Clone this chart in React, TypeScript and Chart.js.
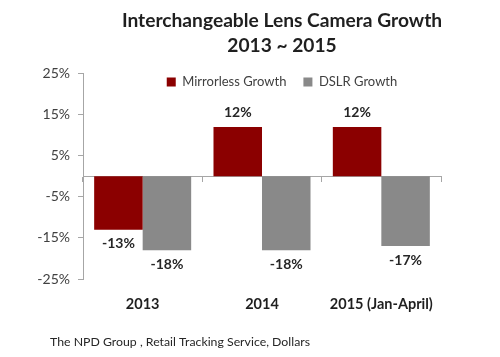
import React, { useEffect, useRef } from 'react';
import { Chart, registerables } from 'chart.js';

Chart.register(...registerables);

const TITLE_LINES = ['Interchangeable Lens Camera Growth', '2013 ~ 2015'];
const CATEGORIES = ['2013', '2014', '2015 (Jan-April)'];
const SERIES_NAMES = ['Mirrorless Growth', 'DSLR Growth'];
const MIRRORLESS = [-13, 12, 12];
const DSLR = [-18, -18, -17];
const Y_MIN = -25;
const Y_MAX = 25;
const Y_STEP = 10;
const FOOTER = 'The NPD Group , Retail Tracking Service, Dollars';

const FONT = 'Lato, "Open Sans", sans-serif';
const AXIS_COLOR = '#a6a6a6';

const legendFitPlugin = {
  id: 'legendFit',
  beforeInit(chart: any) {
    const legend = chart.legend;
    if (!legend) return;
    const orig = legend.fit;
    legend.fit = function () {
      orig.call(this);
      this.height = 15;
    };
  },
  afterLayout(chart: any) {
    const legend = chart.legend;
    if (!legend) return;
    legend.height = 45;
    legend.bottom = legend.top + 45;
  },
};

const valueLabelsPlugin = {
  id: 'valueLabels',
  afterDatasetsDraw(chart: any) {
    const ctx = chart.ctx;
    ctx.save();
    ctx.font = `bold 14px ${FONT}`;
    ctx.fillStyle = '#262626';
    ctx.textAlign = 'center';
    ctx.textBaseline = 'middle';
    chart.data.datasets.forEach((ds: any, di: number) => {
      const meta = chart.getDatasetMeta(di);
      meta.data.forEach((el: any, i: number) => {
        const v = ds.data[i];
        const y = v >= 0 ? el.y - 14 : el.y + 14;
        ctx.fillText(`${v}%`, el.x, y);
      });
    });
    ctx.restore();
  },
};

const footerPlugin = {
  id: 'footerNote',
  afterDraw(chart: any) {
    const ctx = chart.ctx;
    ctx.save();
    ctx.font = `12.3px ${FONT}`;
    ctx.fillStyle = '#262626';
    ctx.textAlign = 'left';
    ctx.textBaseline = 'middle';
    ctx.fillText(FOOTER, 50, 342);
    ctx.restore();
  },
};

export default function App() {
  const canvasRef = useRef<HTMLCanvasElement | null>(null);

  useEffect(() => {
    if (!canvasRef.current) return;
    Chart.defaults.font.family = FONT;
    const chart = new Chart(canvasRef.current, {
      type: 'bar',
      data: {
        labels: CATEGORIES,
        datasets: [
          {
            label: SERIES_NAMES[0],
            data: MIRRORLESS,
            backgroundColor: '#8b0000',
            borderWidth: 0,
          },
          {
            label: SERIES_NAMES[1],
            data: DSLR,
            backgroundColor: '#898989',
            borderWidth: 0,
          },
        ],
      },
      options: {
        animation: false,
        responsive: true,
        maintainAspectRatio: false,
        datasets: {
          bar: { categoryPercentage: 0.813, barPercentage: 1 },
        },
        layout: { padding: { left: 0, right: -64, top: 0, bottom: 0 } },
        plugins: {
          title: {
            display: true,
            text: TITLE_LINES,
            color: '#1f1f1f',
            font: { size: 19.2, weight: 'bold', lineHeight: 1.3, family: FONT },
            padding: { top: 8, bottom: 0.6 },
          },
          legend: {
            display: true,
            position: 'top',
            labels: {
              boxWidth: 9,
              boxHeight: 9,
              padding: 17,
              color: '#404040',
              font: { size: 13, family: FONT },
            },
          },
          tooltip: { enabled: false },
        },
        scales: {
          x: {
            type: 'category',
            position: 'bottom',
            offset: true,
            grid: { display: false, drawTicks: false },
            border: { display: false },
            ticks: {
              color: '#1f1f1f',
              font: { size: 14.5, weight: 'bold', family: FONT },
              padding: 17,
              maxRotation: 0,
            },
            afterFit: (s: any) => {
              s.height = 78;
            },
          },
          x2: {
            type: 'category',
            labels: CATEGORIES,
            position: { y: 0 } as any,
            offset: true,
            grid: {
              display: true,
              offset: true,
              drawOnChartArea: false,
              drawTicks: true,
              tickLength: 5,
              color: AXIS_COLOR,
            },
            border: { display: true, color: AXIS_COLOR },
            ticks: { display: false },
          },
          y: {
            type: 'linear',
            position: 'left',
            min: Y_MIN,
            max: Y_MAX,
            grid: {
              display: true,
              drawOnChartArea: false,
              drawTicks: true,
              tickLength: 5,
              color: AXIS_COLOR,
            },
            border: { display: true, color: AXIS_COLOR },
            ticks: {
              stepSize: Y_STEP,
              padding: 8,
              color: '#404040',
              font: { size: 14, family: FONT },
              callback: (v: any) => `${v}%`,
            },
            afterFit: (s: any) => {
              s.width = 83;
            },
          },
          yRight: {
            type: 'linear',
            position: 'right',
            display: true,
            grid: { display: false, drawTicks: false },
            border: { display: false },
            ticks: { display: false },
            afterFit: (s: any) => {
              s.width = 123;
            },
          },
        },
      },
      plugins: [legendFitPlugin, valueLabelsPlugin, footerPlugin],
    });
    return () => chart.destroy();
  }, []);

  return (
    <div style={{ position: 'absolute', left: 0, top: 0, width: 500, height: 357, background: '#fff' }}>
      <canvas ref={canvasRef} />
    </div>
  );
}
